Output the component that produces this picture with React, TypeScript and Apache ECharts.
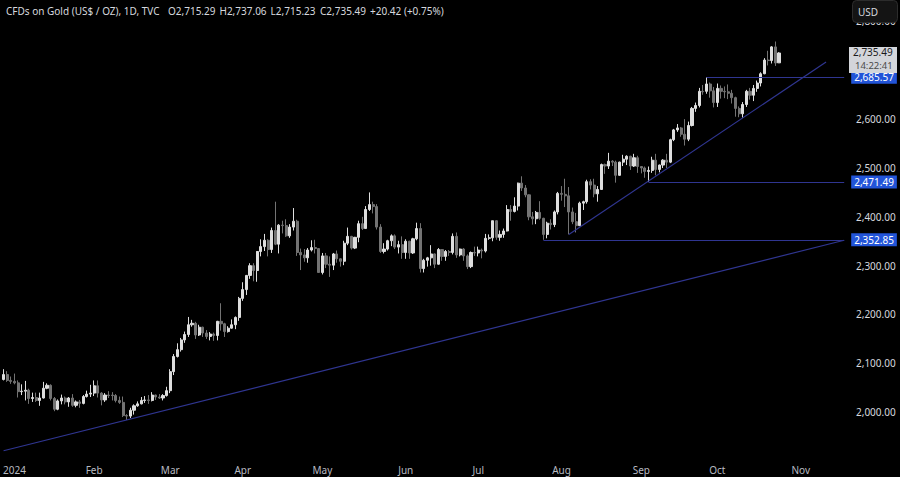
import React, { useEffect, useRef } from "react";
import * as echarts from "echarts";

// Trading calendar (category axis), month -> trading days shown on the chart
const monthDays: [string, number[]][] = [
  ["2023-12", [27, 28, 29]],
  ["2024-01", [2, 3, 4, 5, 8, 9, 10, 11, 12, 15, 16, 17, 18, 19, 22, 23, 24, 25, 26, 29, 30, 31]],
  ["2024-02", [1, 2, 5, 6, 7, 8, 9, 12, 13, 14, 15, 16, 19, 20, 21, 22, 23, 26, 27, 28, 29]],
  ["2024-03", [1, 4, 5, 6, 7, 8, 11, 12, 13, 14, 15, 18, 19, 20, 21, 22, 25, 26, 27, 28]],
  ["2024-04", [1, 2, 3, 4, 5, 8, 9, 10, 11, 12, 15, 16, 17, 18, 19, 22, 23, 24, 25, 26, 29, 30]],
  ["2024-05", [1, 2, 3, 6, 7, 8, 9, 10, 13, 14, 15, 16, 17, 20, 21, 22, 23, 24, 27, 28, 29, 30, 31]],
  ["2024-06", [3, 4, 5, 6, 7, 10, 11, 12, 13, 14, 17, 18, 19, 20, 21, 24, 25, 26, 27, 28]],
  ["2024-07", [1, 2, 3, 4, 5, 8, 9, 10, 11, 12, 15, 16, 17, 18, 19, 22, 23, 24, 25, 26, 29, 30, 31]],
  ["2024-08", [1, 2, 5, 6, 7, 8, 9, 12, 13, 14, 15, 16, 19, 20, 21, 22, 23, 26, 27, 28, 29, 30]],
  ["2024-09", [2, 3, 4, 5, 6, 9, 10, 11, 12, 13, 16, 17, 18, 19, 20, 23, 24, 25, 26, 27, 30]],
  ["2024-10", [1, 2, 3, 4, 7, 8, 9, 10, 11, 14, 15, 16, 17, 18, 21, 22, 23, 24, 25, 28, 29, 30, 31]],
  ["2024-11", [1, 4, 5, 6, 7, 8, 11, 12, 13, 14, 15, 18, 19]],
];

// OHLC rows: [open, high, low, close]
const dec23 = [
  [2067, 2088, 2065, 2077], [2077, 2084, 2062, 2065], [2065, 2073, 2058, 2063],
];
const jan24 = [
  [2063, 2079, 2057, 2060], [2060, 2065, 2030, 2042], [2042, 2057, 2035, 2043], [2043, 2064, 2024, 2045],
  [2045, 2048, 2017, 2028], [2028, 2040, 2021, 2030], [2030, 2040, 2021, 2024], [2024, 2040, 2013, 2029],
  [2029, 2062, 2028, 2049], [2049, 2059, 2047, 2055], [2055, 2057, 2024, 2028], [2028, 2031, 2002, 2006],
  [2006, 2026, 2004, 2023], [2023, 2036, 2016, 2029], [2029, 2032, 2016, 2021], [2021, 2031, 2011, 2029],
  [2029, 2037, 2011, 2014], [2014, 2024, 2010, 2021], [2021, 2025, 2009, 2018], [2018, 2035, 2016, 2032],
  [2032, 2044, 2030, 2037], [2037, 2056, 2031, 2039],
];
const feb24 = [
  [2039, 2065, 2033, 2054], [2054, 2065, 2030, 2039], [2039, 2041, 2014, 2025], [2025, 2039, 2021, 2035],
  [2035, 2043, 2029, 2034], [2035, 2041, 2024, 2034], [2034, 2037, 2020, 2024], [2024, 2032, 2017, 2020],
  [2020, 2032, 1990, 1993], [1993, 1996, 1984, 1992], [1992, 2009, 1988, 2004], [2004, 2016, 1995, 2013],
  [2013, 2022, 2011, 2017], [2017, 2031, 2016, 2024], [2024, 2033, 2019, 2025], [2025, 2035, 2017, 2024],
  [2024, 2041, 2022, 2035], [2035, 2036, 2025, 2031], [2031, 2037, 2027, 2029], [2029, 2037, 2024, 2034],
  [2034, 2052, 2032, 2044],
];
const mar24 = [
  [2044, 2088, 2039, 2083], [2083, 2119, 2076, 2114], [2114, 2141, 2112, 2128], [2128, 2152, 2124, 2148],
  [2148, 2165, 2142, 2159], [2159, 2195, 2154, 2179], [2179, 2189, 2175, 2182], [2182, 2185, 2150, 2158],
  [2158, 2179, 2156, 2174], [2174, 2175, 2154, 2162], [2162, 2168, 2150, 2155], [2155, 2164, 2147, 2160],
  [2160, 2163, 2146, 2157], [2157, 2187, 2147, 2186], [2186, 2223, 2167, 2181], [2181, 2183, 2154, 2165],
  [2165, 2176, 2163, 2172], [2172, 2190, 2171, 2179], [2179, 2196, 2170, 2194], [2194, 2236, 2187, 2233],
];
const apr24 = [
  [2233, 2266, 2228, 2251], [2251, 2281, 2240, 2280], [2280, 2305, 2273, 2300], [2300, 2305, 2268, 2290],
  [2290, 2330, 2267, 2329], [2329, 2354, 2319, 2339], [2339, 2365, 2330, 2352], [2352, 2354, 2319, 2333],
  [2333, 2378, 2326, 2372], [2372, 2431, 2342, 2344], [2344, 2385, 2325, 2383], [2383, 2392, 2366, 2382],
  [2382, 2395, 2359, 2361], [2361, 2385, 2357, 2379], [2379, 2418, 2372, 2391], [2391, 2394, 2320, 2327],
  [2327, 2335, 2291, 2322], [2322, 2334, 2308, 2316], [2316, 2336, 2306, 2332], [2332, 2352, 2329, 2337],
  [2337, 2353, 2325, 2335], [2335, 2336, 2285, 2286],
];
const may24 = [
  [2286, 2326, 2282, 2320], [2320, 2326, 2295, 2303], [2303, 2319, 2277, 2301], [2301, 2326, 2291, 2324],
  [2324, 2331, 2306, 2314], [2314, 2315, 2298, 2309], [2309, 2351, 2301, 2346], [2346, 2378, 2342, 2360],
  [2360, 2361, 2333, 2336], [2336, 2359, 2334, 2358], [2358, 2392, 2348, 2386], [2386, 2400, 2373, 2376],
  [2376, 2422, 2376, 2415], [2415, 2450, 2412, 2425], [2425, 2431, 2407, 2421], [2421, 2426, 2374, 2379],
  [2379, 2385, 2326, 2329], [2329, 2346, 2325, 2334], [2334, 2353, 2331, 2351], [2351, 2364, 2340, 2361],
  [2361, 2364, 2334, 2338], [2338, 2351, 2325, 2343], [2343, 2360, 2314, 2327],
];
const jun24 = [
  [2327, 2354, 2314, 2350], [2350, 2351, 2314, 2326], [2326, 2357, 2324, 2355], [2355, 2388, 2352, 2376],
  [2376, 2387, 2286, 2294], [2294, 2314, 2286, 2311], [2311, 2318, 2298, 2316], [2316, 2342, 2300, 2324],
  [2324, 2325, 2295, 2303], [2303, 2336, 2302, 2333], [2333, 2334, 2310, 2319], [2319, 2332, 2310, 2329],
  [2329, 2332, 2320, 2327], [2327, 2366, 2323, 2360], [2360, 2368, 2316, 2322], [2322, 2335, 2319, 2334],
  [2334, 2336, 2310, 2320], [2320, 2323, 2293, 2298], [2298, 2329, 2295, 2327], [2327, 2339, 2320, 2326],
];
const jul24 = [
  [2326, 2339, 2319, 2332], [2332, 2335, 2315, 2330], [2330, 2365, 2327, 2356], [2356, 2364, 2353, 2357],
  [2357, 2392, 2350, 2392], [2392, 2393, 2353, 2358], [2358, 2372, 2351, 2364], [2364, 2376, 2357, 2371],
  [2371, 2424, 2370, 2415], [2415, 2424, 2392, 2411], [2411, 2440, 2409, 2422], [2422, 2470, 2413, 2469],
  [2469, 2483, 2453, 2459], [2459, 2465, 2440, 2445], [2445, 2446, 2393, 2400], [2400, 2410, 2384, 2396],
  [2396, 2412, 2385, 2409], [2409, 2432, 2394, 2397], [2397, 2398, 2353, 2364], [2364, 2390, 2356, 2387],
  [2387, 2395, 2374, 2384], [2384, 2413, 2379, 2410], [2410, 2451, 2405, 2448],
];
const aug24 = [
  [2448, 2463, 2433, 2446], [2446, 2478, 2420, 2443], [2443, 2461, 2364, 2410], [2410, 2419, 2385, 2390],
  [2390, 2408, 2368, 2382], [2382, 2431, 2381, 2428], [2428, 2433, 2414, 2431], [2431, 2476, 2427, 2472],
  [2472, 2477, 2456, 2465], [2465, 2478, 2440, 2447], [2447, 2463, 2431, 2456], [2456, 2509, 2455, 2507],
  [2507, 2509, 2488, 2504], [2504, 2531, 2498, 2514], [2514, 2516, 2504, 2512], [2512, 2515, 2470, 2485],
  [2485, 2513, 2484, 2512], [2512, 2527, 2504, 2518], [2518, 2526, 2506, 2524], [2524, 2525, 2496, 2504],
  [2504, 2529, 2502, 2521], [2521, 2525, 2490, 2503],
];
const sep24 = [
  [2503, 2504, 2489, 2500], [2500, 2503, 2480, 2493], [2493, 2503, 2471.5, 2495], [2495, 2523, 2490, 2516],
  [2516, 2529, 2485, 2497], [2497, 2507, 2491, 2506], [2506, 2518, 2500, 2516], [2516, 2529, 2500, 2512],
  [2512, 2560, 2510, 2558], [2558, 2580, 2555, 2578], [2578, 2590, 2574, 2582], [2582, 2584, 2564, 2569],
  [2569, 2600, 2546, 2559], [2559, 2595, 2555, 2587], [2587, 2625, 2585, 2622], [2622, 2634, 2615, 2628],
  [2628, 2664, 2624, 2657], [2657, 2670, 2650, 2656], [2657, 2685.57, 2652, 2672], [2672, 2675, 2644, 2658],
  [2658, 2666, 2624, 2634],
];
const oct24 = [
  [2634, 2673, 2625, 2663], [2663, 2669, 2642, 2657], [2657, 2667, 2643, 2656], [2656, 2671, 2641, 2653],
  [2653, 2660, 2632, 2644], [2644, 2646, 2605, 2622], [2622, 2626, 2604, 2611], [2611, 2635, 2603, 2630],
  [2630, 2660, 2625, 2657], [2657, 2664, 2640, 2649], [2649, 2670, 2637, 2663], [2663, 2679, 2656, 2674],
  [2674, 2696, 2667, 2693], [2693, 2725, 2692, 2721], [2721, 2740, 2710, 2720], [2720, 2749.5, 2714, 2748],
  [2748, 2759, 2709, 2715], [2715.29, 2737.06, 2715.23, 2735.49],
];

// Drawn levels and trend lines
const levelPrices = [2352.85, 2471.49, 2685.57];
const levelStarts = ["2024-07-25", "2024-09-04", "2024-09-26"];
const trendStarts: [string, number][] = [["2023-12-27", 1921], ["2024-08-05", 2364]];
const trendEnds: [string, number][] = [["2024-11-19", 2352], ["2024-11-12", 2717]];

// Header / last price
const titleTexts = ["CFDs on Gold (US$ / OZ), 1D, TVC", "O2,715.29", "H2,737.06", "L2,715.23", "C2,735.49", "+20.42 (+0.75%)"];
const titleXs = [6, 168, 218, 269, 320, 369];
const lastPrice = 2735.49;
const lastPriceText = "2,735.49";
const countdownText = "14:22:41";

// y axis ticks
const yMin = 1900;
const yMax = 2844;
const yStep = 100;
const hiddenTicks = [2700];

const monthNames = ["Jan", "Feb", "Mar", "Apr", "May", "Jun", "Jul", "Aug", "Sep", "Oct", "Nov", "Dec"];

const categories: string[] = monthDays.flatMap(([ym, days]) =>
  days.map((d) => `${ym}-${String(d).padStart(2, "0")}`)
);
const ohlc = [...dec23, ...jan24, ...feb24, ...mar24, ...apr24, ...may24, ...jun24, ...jul24, ...aug24, ...sep24, ...oct24];
const candleData = ohlc.map(([o, h, l, c]) => [o, c, l, h]);

const FONT = '"Noto Sans", "Open Sans", sans-serif';
const LINE_COLOR = "#2f3590";
const LABEL_BG = "#2254d8";
const fmt = (v: number) => v.toLocaleString("en-US", { minimumFractionDigits: 2, maximumFractionDigits: 2 });

function measure(text: string, size: number): number {
  const c = document.createElement("canvas").getContext("2d");
  if (!c) return text.length * size * 0.55;
  c.font = `${size}px ${FONT}`;
  return c.measureText(text).width;
}

export default function App() {
  const ref = useRef<HTMLDivElement>(null);

  useEffect(() => {
    document.body.style.margin = "0";
    document.body.style.background = "#000";
    const chart = echarts.init(ref.current!, null, { renderer: "svg" });
    const lastCat = categories[categories.length - 1];
    const lineStyle = { color: LINE_COLOR, width: 1.2, type: "solid" };

    const markData: any[] = [
      ...levelPrices.map((p, i) => [
        {
          coord: [levelStarts[i], p],
          lineStyle,
          label: {
            show: true,
            position: "end",
            distance: 7,
            formatter: fmt(p),
            color: "#ffffff",
            backgroundColor: LABEL_BG,
            padding: [2, 3, 1, 3],
            fontSize: 10,
            fontFamily: FONT,
          },
        },
        { coord: [lastCat, p], lineStyle },
      ]),
      ...trendStarts.map((s, i) => [{ coord: s, lineStyle }, { coord: trendEnds[i], lineStyle }]),
    ];

    chart.setOption({
      animation: false,
      backgroundColor: "#000000",
      grid: { left: 0, right: 54, top: 0, bottom: 16 },
      xAxis: {
        type: "category",
        data: categories,
        boundaryGap: true,
        axisLine: { show: false },
        axisTick: { show: false },
        splitLine: { show: false },
        axisLabel: {
          color: "#b8bbc2",
          fontSize: 10,
          fontFamily: FONT,
          margin: 4,
          interval: (idx: number, val: string) =>
            idx > 0 && categories[idx - 1].slice(0, 7) !== val.slice(0, 7),
          formatter: (val: string) => {
            const m = Number(val.slice(5, 7));
            return m === 1 ? val.slice(0, 4) : monthNames[m - 1];
          },
        },
      },
      yAxis: {
        type: "value",
        position: "right",
        min: yMin,
        max: yMax,
        interval: yStep,
        axisLine: { show: false },
        axisTick: { show: false },
        splitLine: { show: false },
        axisLabel: {
          color: "#d6d8de",
          fontSize: 10,
          fontFamily: FONT,
          margin: 10,
          showMinLabel: false,
          showMaxLabel: false,
          formatter: (v: number) => (hiddenTicks.includes(v) ? "" : fmt(v)),
        },
      },
      series: [
        {
          type: "candlestick",
          data: candleData,
          barWidth: 2.6,
          itemStyle: {
            color: "#dedede",
            color0: "#737373",
            borderColor: "#dedede",
            borderColor0: "#737373",
            borderWidth: 1,
          },
          markLine: {
            silent: true,
            animation: false,
            symbol: ["none", "none"],
            lineStyle,
            label: { show: false },
            data: markData,
          },
        },
      ],
    });

    const p0 = chart.convertToPixel({ seriesIndex: 0 }, [0, lastPrice]) as number[];
    const p1 = chart.convertToPixel({ seriesIndex: 0 }, [1, lastPrice]) as number[];
    const pl = chart.convertToPixel({ seriesIndex: 0 }, [categories.length - 1, lastPrice]) as number[];
    const step = p1[0] - p0[0];
    const edge = pl[0] + step / 2;
    const py = pl[1];

    // header texts placed at their reference positions, never overlapping
    const xs: number[] = [];
    let prevEnd = -Infinity;
    titleTexts.forEach((t, i) => {
      const x = Math.max(titleXs[i], prevEnd + 4);
      xs.push(x);
      prevEnd = x + measure(t, 10);
    });

    const graphics: any[] = [
      ...titleTexts.map((t, i) => ({
        type: "text",
        x: xs[i],
        y: 11,
        z: 100,
        style: { text: t, fill: "#d6d8de", fontSize: 10, fontFamily: FONT, verticalAlign: "middle" },
      })),
      {
        type: "rect",
        z: 100,
        shape: { x: 852.5, y: 0.5, width: 45, height: 22, r: 4 },
        style: { fill: "#141414", stroke: "#2c2c2c", lineWidth: 1 },
      },
      {
        type: "text",
        z: 101,
        x: 868,
        y: 11.5,
        style: { text: "USD", fill: "#d6d8de", fontSize: 10, fontFamily: FONT, align: "center", verticalAlign: "middle" },
      },
      {
        type: "rect",
        z: 100,
        shape: { x: edge + 3, y: py - 6, width: 48, height: 26 },
        style: { fill: "#d3d5da" },
      },
      {
        type: "text",
        z: 101,
        x: edge + 7,
        y: py - 0.5,
        style: { text: lastPriceText, fill: "#1a1a1a", fontSize: 10, fontFamily: FONT, verticalAlign: "middle" },
      },
      {
        type: "text",
        z: 101,
        x: edge + 9,
        y: py + 12.5,
        style: { text: countdownText, fill: "#4a4a4a", fontSize: 9.5, fontFamily: FONT, verticalAlign: "middle" },
      },
    ];
    chart.setOption({ graphic: graphics });

    return () => chart.dispose();
  }, []);

  return (
    <div
      ref={ref}
      style={{ position: "fixed", left: 0, top: 0, width: 900, height: 477, background: "#000" }}
    />
  );
}
